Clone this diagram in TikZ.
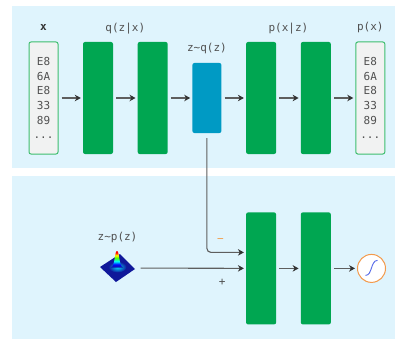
\documentclass[tikz,border=0pt]{standalone}
\usepackage{fontspec}
\setmainfont{DejaVu Sans}
\setmonofont{DejaVu Sans Mono}
\usetikzlibrary{arrows.meta, positioning, calc}

\definecolor{panelbg}{HTML}{DFF4FD}
\definecolor{netgreen}{HTML}{00A651}
\definecolor{latblue}{HTML}{009AC4}
\definecolor{seqedge}{HTML}{3DBE6E}
\definecolor{seqfill}{HTML}{F1F2F2}
\definecolor{arrgray}{HTML}{333333}
\definecolor{linegray}{HTML}{5E5E5E}
\definecolor{txtgray}{HTML}{505050}
\definecolor{signorange}{HTML}{F0A050}
\definecolor{sigorange}{HTML}{F39A4C}
\definecolor{sigblue}{HTML}{5468E8}
\definecolor{jetnavy}{HTML}{10189A}

% colour ramp for the little density plot
\pgfdeclareverticalshading{jet}{100bp}{color(0bp)=(jetnavy); color(25bp)=(jetnavy); color(34bp)=(blue); color(44bp)=(cyan); color(54bp)=(green!70!yellow); color(62bp)=(yellow); color(70bp)=(red); color(100bp)=(red)}

\begin{document}
\begin{tikzpicture}[
  x=1pt, y=-1pt,
  layer/.style={fill=netgreen, rounded corners=2pt, minimum width=30pt, minimum height=112pt, inner sep=0pt},
  seq/.style={draw=seqedge, fill=seqfill, line width=1pt, rounded corners=2pt, minimum width=29pt, minimum height=112pt, inner sep=0pt, align=center, text=txtgray, font=\fontsize{11}{14.7}\selectfont\ttfamily},
  zbox/.style={fill=latblue, rounded corners=2pt, minimum width=29pt, minimum height=70pt, inner sep=0pt},
  lbl/.style={font=\fontsize{11}{13}\selectfont\ttfamily, text=txtgray, inner sep=1pt, text height=8pt, text depth=2.5pt},
  sigm/.style={circle, draw=sigorange, line width=1pt, fill=white, minimum size=28pt, inner sep=0pt},
  arr/.style={->, draw=linegray, line width=1.4pt, shorten <=3pt, shorten >=2pt},
  >={Stealth[length=6pt, width=6.5pt, color=arrgray]}, node distance=24.3pt
]
\useasboundingbox (0,0) rectangle (395,339);
\fill[panelbg] (12,6) rectangle (395,168);
\fill[panelbg] (12,176) rectangle (395,339);

% encoder / decoder
\node[seq] (xin) at (43.5,98) {E8\\6A\\E8\\33\\89\\...};
\node[layer, right=of xin] (enc1) {};
\node[layer, right=of enc1] (enc2) {};
\node[zbox, right=of enc2] (latent) {};
\node[layer, right=of latent] (dec1) {};
\node[layer, right=of dec1] (dec2) {};
\node[seq, right=of dec2] (xout) {E8\\6A\\E8\\33\\89\\...};

\node[lbl, above=7pt of xin, text=arrgray] (xlbl) {\bfseries x};
\node[lbl, above=7pt] (enclbl) at ($(enc1.north)!.5!(enc2.north)$) {q(z|x)};
\node[lbl, above=8pt of latent] (latlbl) {z\textasciitilde q(z)};
\node[lbl, above=7pt] (declbl) at ($(dec1.north)!.5!(dec2.north)$) {p(x|z)};
\node[lbl, above=7pt of xout] (outlbl) {p(x)};

\draw[arr] (xin) -- (enc1);
\draw[arr] (enc1) -- (enc2);
\draw[arr] (enc2) -- (latent);
\draw[arr] (latent) -- (dec1);
\draw[arr] (dec1) -- (dec2);
\draw[arr] (dec2) -- (xout);

% discriminator
\node[layer, below=58pt of dec1] (dis1) {};
\node[layer, right=of dis1] (dis2) {};
\node[sigm, right=26pt of dis2] (sig) {};
\node[minimum width=40pt, minimum height=30pt, inner sep=0pt] (prior) at (117.5,268) {};
\node[lbl, above=9pt of prior] (priorlbl) {z\textasciitilde p(z)};

% gaussian bump on a tilted square
\begin{scope}[shift={(prior.center)}]
  \fill[jetnavy] (-17.5,-1) -- (2.5,-14) -- (17.5,1) -- (-1.5,14) -- cycle;
  \shade[inner color=cyan!85!blue, outer color=jetnavy] (0,-1) ellipse (9pt and 5.5pt);
  \shade[shading=jet] (-6.5,-0.5) .. controls (-2.5,-1.5) and (-3,-17) .. (-0.5,-17)
    .. controls (2,-17) and (1.5,-1.5) .. (5.5,-0.5) -- cycle;
\end{scope}

% sigmoid
\begin{scope}[shift={(sig.center)}]
  \draw[sigblue, line width=0.9pt] (-6,7) .. controls (1,7) and (-1,-8) .. (6,-8);
\end{scope}

\draw[arr, line width=1.1pt, rounded corners=4pt, shorten <=5pt] (latent) |- node[lbl, pos=0.675, above=6pt, text=signorange] {−} ([yshift=16pt]dis1.west);
\draw[arr, line width=1.1pt] (prior) -- node[lbl, pos=0.78, below=8pt] {+} (dis1);
\draw[arr] (dis1) -- (dis2);
\draw[arr] (dis2) -- (sig);
\end{tikzpicture}
\end{document}
